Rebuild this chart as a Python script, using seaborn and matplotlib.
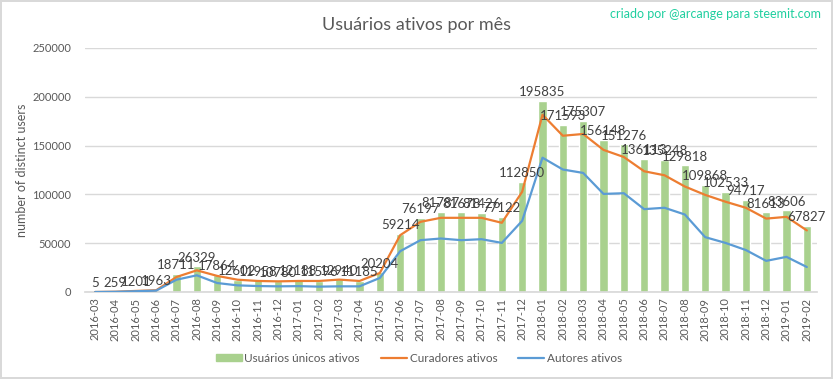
import matplotlib
matplotlib.use("Agg")
import matplotlib.pyplot as plt
import seaborn as sns
import pandas as pd
from matplotlib.lines import Line2D
from matplotlib.patches import Patch

months = ["2016-03","2016-04","2016-05","2016-06","2016-07","2016-08","2016-09","2016-10",
          "2016-11","2016-12","2017-01","2017-02","2017-03","2017-04","2017-05","2017-06",
          "2017-07","2017-08","2017-09","2017-10","2017-11","2017-12","2018-01","2018-02",
          "2018-03","2018-04","2018-05","2018-06","2018-07","2018-08","2018-09","2018-10",
          "2018-11","2018-12","2019-01","2019-02"]
usuarios = [5, 259, 1201, 1963, 18711, 26329, 17864, 12602, 11958, 10780, 12188, 11596,
            12940, 11185, 20204, 59214, 76197, 81787, 81678, 81426, 77122, 112850, 195835,
            171593, 175307, 156148, 151276, 136113, 135248, 129818, 109868, 102533, 94717,
            81613, 83606, 67827]
curadores = [0, 250, 1100, 1800, 15400, 22200, 16500, 12600, 11300, 10900, 11300, 11300,
             12700, 11300, 19500, 58200, 71900, 76000, 76000, 76000, 70900, 102700, 181600,
             160100, 161900, 145600, 138300, 123700, 119600, 108100, 99500, 92500, 86300,
             75200, 77000, 63100]
autores = [0, 200, 800, 1400, 12600, 17100, 9200, 6800, 6100, 5800, 6000, 5500,
           5800, 5800, 14400, 41800, 53100, 54800, 53100, 54100, 50300, 72900, 137600,
           125500, 122000, 100500, 101200, 84900, 86300, 79400, 56200, 50300, 43000,
           31900, 36000, 25600]

df = pd.DataFrame({"mes": months, "usuarios": usuarios,
                   "curadores": curadores, "autores": autores})

sns.set_theme(style="white")
plt.rcParams["font.family"] = ["Lato", "DejaVu Sans"]

GREEN = "#a9d18e"
ORANGE = "#ed7d31"
BLUE = "#5b9bd5"
TXT = "#595959"

fig = plt.figure(figsize=(8.33, 3.79), dpi=100)
fig.patch.set_edgecolor("#d9d9d9")
fig.patch.set_linewidth(1.5)
ax = fig.add_axes([85/833, 1-292/379, 732/833, 244/379])

sns.barplot(data=df, x="mes", y="usuarios", color=GREEN, width=0.42,
            saturation=1, ax=ax, zorder=2)
sns.lineplot(data=df, x="mes", y="curadores", color=ORANGE, lw=1.6, sort=False,
             ax=ax, zorder=3)
sns.lineplot(data=df, x="mes", y="autores", color=BLUE, lw=1.6, sort=False,
             ax=ax, zorder=3)

ax.bar_label(ax.containers[0], labels=[str(v) for v in usuarios], padding=2,
             fontsize=9.5, color="#404040", zorder=4)

ax.set_ylim(0, 250000)
ax.set_xlim(-0.5, len(months) - 0.5)
ax.set_yticks(range(0, 250001, 50000))
ax.yaxis.grid(True, color="#d9d9d9", lw=1)
ax.set_axisbelow(True)
for s in ["top", "right", "left"]:
    ax.spines[s].set_visible(False)
ax.spines["bottom"].set_color("#d9d9d9")
ax.tick_params(axis="x", rotation=90, labelsize=8, colors=TXT, length=0, pad=4)
ax.tick_params(axis="y", labelsize=8, colors=TXT, length=0, pad=10)
ax.set_xlabel("")
ax.set_ylabel("number of distinct users", fontsize=9, color=TXT)
ax.yaxis.set_label_coords((28 - 85) / 732, (292 - 170) / 244)

fig.text(416/833, 1-25/379, "Usuários ativos por mês", ha="center", va="center",
         fontsize=13, color=TXT)
fig.text(821/833, 1-14/379, "criado por @arcange para steemit.com", ha="right",
         va="center", fontsize=9, color="#1fcf9f")

handles = [Patch(color=GREEN),
           Line2D([], [], color=ORANGE, lw=1.6),
           Line2D([], [], color=BLUE, lw=1.6)]
fig.legend(handles, ["Usuários únicos ativos", "Curadores ativos", "Autores ativos"],
           loc="center", bbox_to_anchor=(419/833, 1-358/379), ncol=3, frameon=False,
           fontsize=8.5, labelcolor=TXT, handlelength=2.2, handleheight=0.5,
           columnspacing=1.8, handletextpad=0.2)

fig.savefig("out.png", dpi=100, edgecolor=fig.get_edgecolor())
